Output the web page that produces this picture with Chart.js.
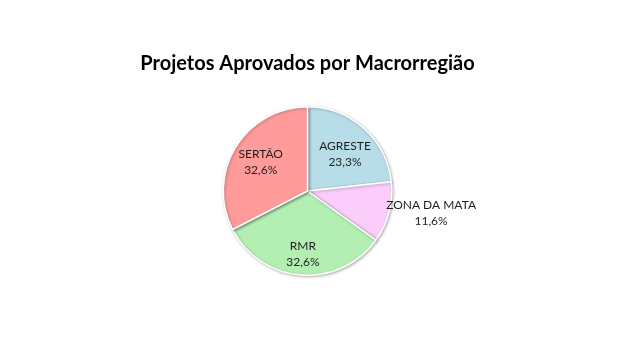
<!DOCTYPE html>
<html>
<head>
<meta charset="utf-8">
<script src="https://cdn.jsdelivr.net/npm/chart.js@4.4.1/dist/chart.umd.min.js"></script>
<style>
  html, body { margin: 0; padding: 0; background: #ffffff; }
  #wrap { width: 640px; height: 356px; position: relative; }
</style>
</head>
<body>
<div id="wrap"><canvas id="c" width="640" height="356"></canvas></div>
<script>
// Data
const categories = ['AGRESTE', 'ZONA DA MATA', 'RMR', 'SERTÃO'];
const projectCounts = [10, 5, 14, 14];
const percentLabels = ['23,3%', '11,6%', '32,6%', '32,6%'];
const chartTitle = 'Projetos Aprovados por Macrorregião';

const sliceColors = ['#b7dee8', '#facdfa', '#b3efb3', '#ff9b9b'];
const labelRadiusFactor = [0.62, 1.49, 0.75, 0.65];
const labelAngleShiftDeg = [4, -4.5, 0, 0];

const FONT = 'Lato, "Liberation Sans", sans-serif';

const shadowPlugin = {
  id: 'pieShadow',
  beforeDatasetDraw(chart) {
    const ctx = chart.ctx;
    ctx.save();
    ctx.shadowColor = 'rgba(0,0,0,0.28)';
    ctx.shadowBlur = 3;
    ctx.shadowOffsetX = 1;
    ctx.shadowOffsetY = 1;
  },
  afterDatasetDraw(chart) {
    chart.ctx.restore();
  }
};

const labelPlugin = {
  id: 'sliceLabels',
  afterDatasetsDraw(chart) {
    const ctx = chart.ctx;
    const meta = chart.getDatasetMeta(0);
    ctx.save();
    ctx.font = '12px ' + FONT;
    ctx.fillStyle = '#1e1e1e';
    ctx.textAlign = 'center';
    ctx.textBaseline = 'middle';
    meta.data.forEach((arc, i) => {
      const p = arc.getProps(['x', 'y', 'startAngle', 'endAngle', 'outerRadius'], true);
      const mid = (p.startAngle + p.endAngle) / 2 + labelAngleShiftDeg[i] * Math.PI / 180;
      const r = p.outerRadius * labelRadiusFactor[i];
      const x = p.x + Math.cos(mid) * r;
      const y = p.y + Math.sin(mid) * r;
      ctx.fillText(categories[i], x, y - 8);
      ctx.fillText(percentLabels[i], x, y + 8);
    });
    ctx.restore();
  }
};

new Chart(document.getElementById('c'), {
  type: 'pie',
  data: {
    labels: categories,
    datasets: [{
      data: projectCounts,
      backgroundColor: sliceColors,
      borderColor: '#ffffff',
      borderWidth: 1.5
    }]
  },
  options: {
    responsive: false,
    animation: false,
    layout: { padding: { top: 0, left: 0, right: 25, bottom: 80 } },
    plugins: {
      legend: { display: false },
      tooltip: { enabled: false },
      title: {
        display: true,
        text: chartTitle,
        color: '#000000',
        font: { family: FONT, size: 20, weight: 'bold', lineHeight: 1.2 },
        padding: { top: 52, bottom: 30 }
      }
    }
  },
  plugins: [shadowPlugin, labelPlugin]
});
</script>
</body>
</html>
